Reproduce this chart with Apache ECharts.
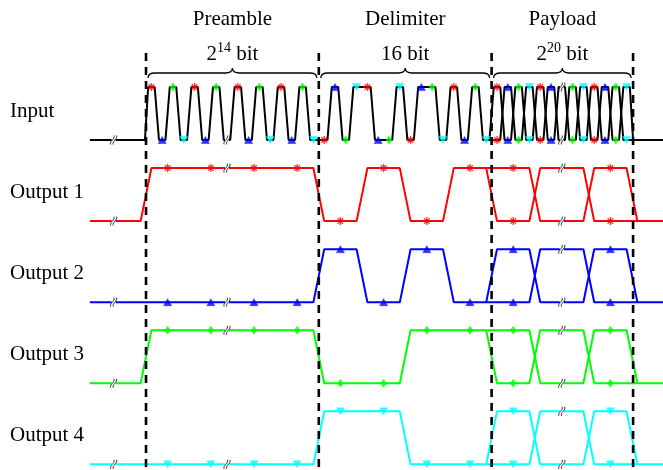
<!DOCTYPE html>
<html><head><meta charset="utf-8">
<script src="https://cdn.jsdelivr.net/npm/echarts@6/dist/echarts.min.js"></script>
<style>html,body{margin:0;padding:0;background:#fff}#c{width:663px;height:470px}</style>
</head><body><div id="c"></div><script>
// ---------------- data ----------------
const sectionNames = ['Preamble', 'Delimiter', 'Payload'];
const sectionBase = ['2', '16', '2'];
const sectionExp = ['14', '', '20'];
const sectionBounds = [0, 16, 32, 45.1];          // in symbol slots
const rowLabels = ['Input', 'Output 1', 'Output 2', 'Output 3', 'Output 4'];
const outputColors = ['#ff0000', '#0000ff', '#00ff00', '#00ffff'];
const preambleBits = [1,0,1,0,1,0,1,0,1,0,1,0,1,0,1,0];
const delimiterBits = [0,1,0,1,1,0,0,1,0,1,1,0,1,0,1,0];
const payloadFirstSlot = 32, payloadLastSlot = 44;
// owner output of each input slot; -1 marks an axis break
const slotOwner = [0,1,2,3,0,1,2,-1,0,1,2,3,0,1,2,3,
                   0,1,2,3,0,1,2,3,0,1,2,3,0,1,2,3,
                   0,1,2,3,0,1,-1,2,3,0,1,2,3];
const groupStarts = [0,4,8,12,16,20,24,28,32,36,41,45];
const payloadA = [1,0,1], payloadB = [0,1,0];
const startT = -5.2, endT = 47.9, leadBreakT = -3;

// ---------------- layout constants ----------------
const ROW = 1.53;
const X_MIN = -13.52, X_MAX = 47.87, Y_MIN = -6.2264, Y_MAX = 2.6415;
const BRACE_V = 1.17, DASH_TOP_V = 1.64;
const FONT = "'Liberation Serif','Times New Roman',serif";
const FS = 21;

const bits = preambleBits.concat(delimiterBits);
const breakSlots = slotOwner.map((o,i)=>o<0?i:null).filter(v=>v!==null);
const rowV = (r, L) => L - ROW * r;

const series = [];

// ---- input waveform ----
(function(){
  const a = [[startT,0],[-0.1,0]];
  for (let k = 0; k < 32; k++) { a.push([k+0.2, bits[k]],[k+0.8, bits[k]]); }
  const b = [[31.8, bits[31]]];
  for (let k = payloadFirstSlot; k <= payloadLastSlot; k++) {
    const L = (k % 2 === 0) ? 1 : 0;
    a.push([k+0.2, L],[k+0.8, L]);
    b.push([k+0.2, 1-L],[k+0.8, 1-L]);
  }
  a.push([45.1, 0],[endT, 0]);
  b.push([45.1, 0]);
  [a,b].forEach(p => series.push({type:'line', data:p.map(q=>[q[0], rowV(0,q[1])]), symbol:'none',
    lineStyle:{color:'#000', width:2}, z:2, silent:true}));
})();

// ---- output waveforms ----
for (let o = 0; o < 4; o++) {
  const levels = [];
  for (let j = 0; j < 8; j++) levels.push(bits[4*j+o]);
  const a = [[startT,0]]; let prev = 0;
  for (let j = 0; j < 8; j++) { const s = groupStarts[j]; a.push([s-0.5, prev],[s+0.5, levels[j]]); prev = levels[j]; }
  const b = []; let pa = prev, pb = prev;
  for (let m = 0; m < 3; m++) {
    const s = groupStarts[8+m];
    a.push([s-0.5, pa],[s+0.5, payloadA[m]]); pa = payloadA[m];
    b.push([s-0.5, pb],[s+0.5, payloadB[m]]); pb = payloadB[m];
  }
  const e = groupStarts[11];
  a.push([e-0.5, pa],[e+0.5, 0],[endT, 0]);
  b.push([e-0.5, pb],[e+0.5, 0]);
  [a,b].forEach(p => series.push({type:'line', data:p.map(q=>[q[0], rowV(o+1,q[1])]), symbol:'none',
    lineStyle:{color:outputColors[o], width:2}, z:2, silent:true}));
}

// ---- markers ----
const markerSymbol = ['path://M0,-10L0,10M-10,0L10,0M-7,-7L7,7M-7,7L7,-7', 'triangle', 'diamond', 'triangle'];
const markerRotate = [0, 0, 0, 180];
const markerSize = [[8,8],[8,7],[6,8],[8,7]];
const inputMarks = [[],[],[],[]], outMarks = [[],[],[],[]];
slotOwner.forEach((o, k) => {
  if (o < 0) return;
  if (k < payloadFirstSlot) inputMarks[o].push([k+0.5, rowV(0, bits[k])]);
  else { inputMarks[o].push([k+0.5, rowV(0,1)]); inputMarks[o].push([k+0.5, rowV(0,0)]); }
});
for (let o = 0; o < 4; o++) {
  for (let j = 0; j < 11; j++) {
    const c = (groupStarts[j] + groupStarts[j+1]) / 2;
    if (breakSlots.some(s => Math.abs(s + 0.5 - c) < 0.6)) continue;
    if (j < 8) outMarks[o].push([c, rowV(o+1, bits[4*j+o])]);
    else { outMarks[o].push([c, rowV(o+1,1)]); outMarks[o].push([c, rowV(o+1,0)]); }
  }
}
for (let o = 0; o < 4; o++) {
  [inputMarks[o], outMarks[o]].forEach(d => series.push({
    type:'scatter', data:d, symbol:markerSymbol[o], symbolSize:markerSize[o], symbolRotate:markerRotate[o],
    itemStyle: o === 0 ? {color:'rgba(0,0,0,0)', borderColor:outputColors[o], borderWidth:1.3}
                       : {color:outputColors[o], borderColor:outputColors[o], borderWidth:0.5},
    z:3, silent:true}));
}

// ---- axis break marks ----
const breakPts = [];
for (let r = 0; r < 5; r++) breakPts.push([leadBreakT, rowV(r,0)]);
breakPts.push([breakSlots[0]+0.5, rowV(0, bits[breakSlots[0]])]);
for (let o = 0; o < 4; o++) breakPts.push([breakSlots[0]+0.5, rowV(o+1, bits[4*Math.floor(breakSlots[0]/4)+o])]);
for (let r = 0; r < 5; r++) { breakPts.push([breakSlots[1]+0.5, rowV(r,1)]); breakPts.push([breakSlots[1]+0.5, rowV(r,0)]); }
series.push({type:'custom', data:breakPts, z:4, silent:true,
  renderItem:(p, api) => {
    const c = api.coord([api.value(0), api.value(1)]);
    const x = c[0], y = c[1];
    const s = dx => `M${x+dx-1.6},${y+4.5} C${x+dx-3.2},${y+1} ${x+dx+3.2},${y-1} ${x+dx+1.6},${y-4.5}`;
    return {type:'group', children:[
      {type:'rect', shape:{x:x-2, y:y-3, width:4, height:6}, style:{fill:'#fff'}},
      {type:'path', shape:{pathData: s(-1.3) + ' ' + s(1.3)}, style:{fill:'none', stroke:'#000', lineWidth:0.8}}
    ]};
  }});

// ---- dashed section boundaries ----
series.push({type:'custom', data:sectionBounds.map(t=>[t]), z:5, silent:true,
  renderItem:(p, api) => {
    const a = api.coord([api.value(0), DASH_TOP_V]), b = api.coord([api.value(0), Y_MIN]);
    return {type:'line', shape:{x1:a[0], y1:a[1], x2:b[0], y2:b[1]},
      style:{stroke:'#000', lineWidth:2.6, lineDash:[8,6]}};
  }});

// ---- braces and section titles ----
series.push({type:'custom', data:sectionNames.map((n,i)=>[i]), z:5, silent:true,
  renderItem:(p, api) => {
    const i = api.value(0);
    const pa = api.coord([sectionBounds[i], BRACE_V]), pb = api.coord([sectionBounds[i+1], BRACE_V]);
    const xa = pa[0]+2, xb = pb[0]-2, y = pa[1], xm = (xa+xb)/2;
    const d = `M${xa},${y} Q${xa},${y-5} ${xa+7},${y-5} L${xm-7},${y-5} Q${xm},${y-5} ${xm},${y-10} ` +
              `Q${xm},${y-5} ${xm+7},${y-5} L${xb-7},${y-5} Q${xb},${y-5} ${xb},${y}`;
    const sub = sectionExp[i] ? `{b|${sectionBase[i]}}{s|${sectionExp[i]}}{b| bit}` : `{b|${sectionBase[i]} bit}`;
    return {type:'group', children:[
      {type:'path', shape:{pathData:d}, style:{fill:'none', stroke:'#000', lineWidth:1.3}},
      {type:'text', x:xm, y:y-59, style:{text:sectionNames[i], fontSize:FS, fontFamily:FONT, fill:'#000', align:'center', verticalAlign:'middle'}},
      {type:'text', x:xm, y:y-25, style:{text:sub, fill:'#000', align:'center', verticalAlign:'middle',
        rich:{b:{fontSize:FS, fontFamily:FONT, lineHeight:24, verticalAlign:'bottom'},
              s:{fontSize:14, fontFamily:FONT, lineHeight:24, verticalAlign:'top'}}}}
    ]};
  }});

// ---- row labels ----
series.push({type:'custom', data:rowLabels.map((n,r)=>[r]), z:5, silent:true,
  renderItem:(p, api) => {
    const r = api.value(0);
    const c = api.coord([startT, rowV(r, 0.5)]);
    return {type:'text', x:10, y:c[1]-2.5, style:{text:rowLabels[r], fontSize:FS, fontFamily:FONT, fill:'#000', align:'left', verticalAlign:'middle'}};
  }});

const chart = echarts.init(document.getElementById('c'), null, {renderer:'canvas'});
chart.setOption({
  animation:false,
  backgroundColor:'#fff',
  grid:{left:0, right:0, top:0, bottom:0},
  xAxis:{type:'value', min:X_MIN, max:X_MAX, show:false},
  yAxis:{type:'value', min:Y_MIN, max:Y_MAX, show:false},
  series: series
});
</script></body></html>
